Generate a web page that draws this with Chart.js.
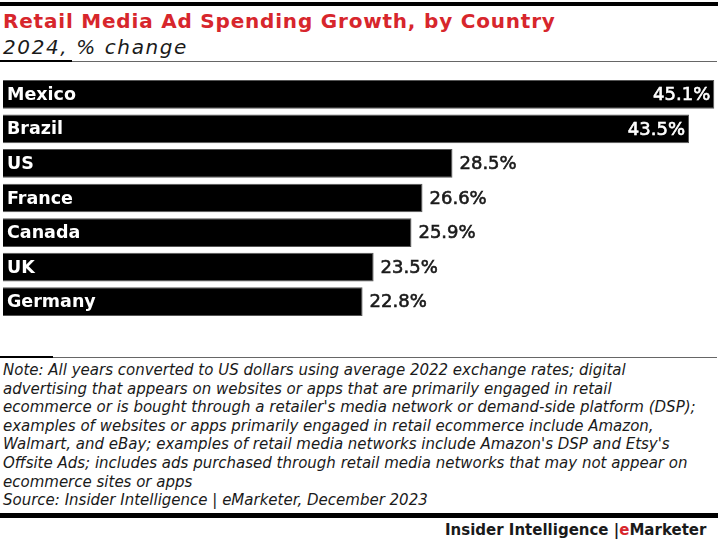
<!DOCTYPE html>
<html><head><meta charset="utf-8">
<script src="https://cdn.jsdelivr.net/npm/chart.js@4.4.1/dist/chart.umd.min.js"></script>
<style>
html,body{margin:0;padding:0;background:#fff;width:720px;height:552px;overflow:hidden;}
body{position:relative;font-family:"DejaVu Sans",sans-serif;color:#1a1a1a;}
.rule{position:absolute;left:0;}
#topRule{top:2px;width:718px;height:4px;background:#000;}
#title{position:absolute;left:3px;top:9px;font-weight:bold;font-size:20px;letter-spacing:0.8px;color:#d7262c;white-space:nowrap;}
#subtitle{position:absolute;left:3px;top:35px;font-style:italic;font-size:20px;letter-spacing:1.6px;color:#1a1a1a;white-space:nowrap;}
#subRule{top:61px;width:717px;height:1px;background:#666;}
#subRuleThick{top:60px;width:72px;height:2px;background:#000;}
#chartBox{position:absolute;left:0;top:77px;width:720px;height:242px;}
#noteRule{top:357px;width:717px;height:1px;background:#666;}
#noteRuleThick{top:356px;width:53px;height:2px;background:#000;}
#notes{position:absolute;left:3px;top:361px;font-style:italic;font-size:15px;line-height:18.6px;color:#1a1a1a;white-space:nowrap;}
#bottomRule{top:513px;width:718px;height:5px;background:#000;}
#brand{position:absolute;left:445px;top:521px;font-weight:bold;font-size:15px;color:#1a1a1a;white-space:nowrap;}
#brand span{color:#d7262c;}
</style>
</head>
<body>
<div class="rule" id="topRule"></div>
<div id="title">Retail Media Ad Spending Growth, by Country</div>
<div id="subtitle">2024, % change</div>
<div class="rule" id="subRule"></div>
<div class="rule" id="subRuleThick"></div>
<div id="chartBox"><canvas id="c"></canvas></div>
<div class="rule" id="noteRule"></div>
<div class="rule" id="noteRuleThick"></div>
<div id="notes">Note: All years converted to US dollars using average 2022 exchange rates; digital<br>advertising that appears on websites or apps that are primarily engaged in retail<br>ecommerce or is bought through a retailer's media network or demand-side platform (DSP);<br>examples of websites or apps primarily engaged in retail ecommerce include Amazon,<br>Walmart, and eBay; examples of retail media networks include Amazon's DSP and Etsy's<br>Offsite Ads; includes ads purchased through retail media networks that may not appear on<br>ecommerce sites or apps<br>Source: Insider Intelligence | eMarketer, December 2023</div>
<div class="rule" id="bottomRule"></div>
<div id="brand">Insider Intelligence |<span>e</span>Marketer</div>
<script>
const countries = ["Mexico", "Brazil", "US", "France", "Canada", "UK", "Germany"];
const growth = [45.1, 43.5, 28.5, 26.6, 25.9, 23.5, 22.8];

const barLabels = {
  id: 'barLabels',
  afterDatasetsDraw(chart) {
    const ctx = chart.ctx;
    const area = chart.chartArea;
    const meta = chart.getDatasetMeta(0);
    const yScale = chart.scales.y;
    ctx.save();
    ctx.textBaseline = 'middle';
    // category names inside bars
    ctx.font = 'bold 17.5px "DejaVu Sans"';
    ctx.fillStyle = '#fff';
    ctx.textAlign = 'left';
    chart.data.labels.forEach((lab, i) => {
      ctx.fillText(lab, area.left + 4, yScale.getPixelForValue(i) + 1);
    });
    // values
    ctx.font = '18px "DejaVu Sans"';
    ctx.lineWidth = 0.6;
    meta.data.forEach((bar, i) => {
      const txt = growth[i].toFixed(1) + '%';
      const w = ctx.measureText(txt).width;
      let x, col;
      if (bar.x + 7 + w > area.right) {
        col = '#fff'; ctx.textAlign = 'right'; x = bar.x - 4;
      } else {
        col = '#1a1a1a'; ctx.textAlign = 'left'; x = bar.x + 7;
      }
      ctx.fillStyle = col; ctx.strokeStyle = col;
      ctx.fillText(txt, x, bar.y + 1);
      ctx.strokeText(txt, x, bar.y + 1);
    });
    ctx.restore();
  }
};

new Chart(document.getElementById('c'), {
  type: 'bar',
  data: {
    labels: countries,
    datasets: [{
      data: growth,
      backgroundColor: '#000',
      borderColor: '#555',
      borderWidth: 1,
      barPercentage: 0.83,
      categoryPercentage: 1.0
    }]
  },
  options: {
    indexAxis: 'y',
    responsive: true,
    maintainAspectRatio: false,
    animation: false,
    layout: { padding: { left: 3, right: 1, top: 0, bottom: 0 } },
    plugins: { legend: { display: false }, tooltip: { enabled: false }, title: { display: false } },
    scales: {
      x: { display: false, min: 0, max: 45.4 },
      y: { display: false }
    }
  },
  plugins: [barLabels]
});
</script>
</body></html>
